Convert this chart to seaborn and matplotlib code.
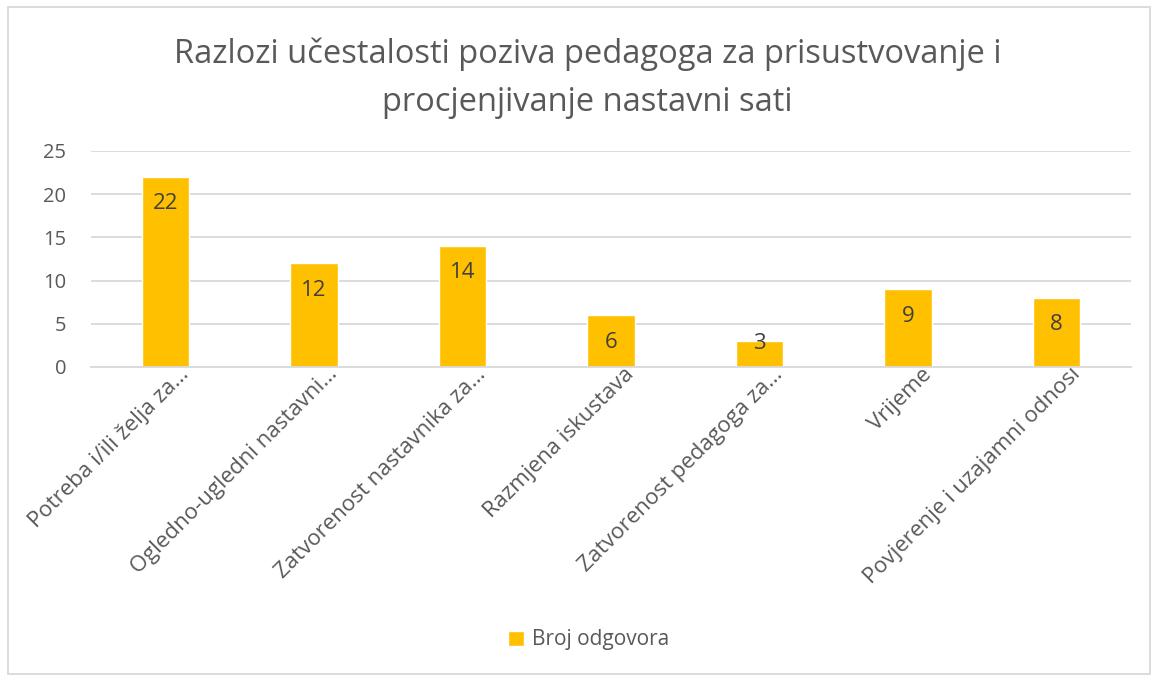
import matplotlib
matplotlib.use("Agg")
import matplotlib.pyplot as plt
import seaborn as sns
import pandas as pd
from matplotlib.patches import Rectangle

# data
categories = ["Potreba i/ili želja za…", "Ogledno-ugledni nastavni…",
              "Zatvorenost nastavnika za…", "Razmjena iskustava",
              "Zatvorenost pedagoga za…", "Vrijeme", "Povjerenje i uzajamni odnosi"]
values = [22, 12, 14, 6, 3, 9, 8]
yticks = [0, 5, 10, 15, 20, 25]
series_name = "Broj odgovora"
title = "Razlozi učestalosti poziva pedagoga za prisustvovanje i\nprocjenjivanje nastavni sati"

df = pd.DataFrame({"kategorija": categories, "vrijednost": values})

sns.set_style("white")
plt.rcParams["font.family"] = ["Open Sans", "DejaVu Sans"]
text_col = "#595959"
bar_col = "#FFC000"

fig = plt.figure(figsize=(11.54, 6.75), dpi=100)
ax = fig.add_axes([91 / 1154, 1 - 367 / 675, (1131 - 91) / 1154, (367 - 151) / 675])

sns.barplot(data=df, x="kategorija", y="vrijednost", color=bar_col, width=0.32,
            saturation=1, ax=ax, label=series_name)

ax.set_ylim(0, 25)
ax.set_yticks(yticks)
ax.yaxis.grid(True, color="#D9D9D9", linewidth=1.3)
ax.set_axisbelow(True)
for s in ["top", "right", "left"]:
    ax.spines[s].set_visible(False)
ax.spines["bottom"].set_color("#D9D9D9")
ax.spines["bottom"].set_linewidth(1.3)
ax.tick_params(axis="both", length=0, colors=text_col, labelsize=14.5)
ax.tick_params(axis="x", labelsize=16)
ax.tick_params(axis="y", pad=18)
ax.set_xlabel("")
ax.set_ylabel("")
plt.setp(ax.get_xticklabels(), rotation=45, ha="right", rotation_mode="anchor")
for lbl in ax.get_xticklabels():
    lbl.set_transform(lbl.get_transform() + matplotlib.transforms.ScaledTranslation(0.13, 0.08, fig.dpi_scale_trans))

# value labels inside the bar end; short bars get the label pushed up
for i, v in enumerate(values):
    y = v - 1.9 if v > 4 else v + 0.9
    ax.text(i, y, str(v), ha="center", va="top", fontsize=16, color="#404040")

fig.suptitle(title, fontsize=23.5, color=text_col, x=0.509, y=0.945, linespacing=1.6)

leg = ax.legend(loc="center", bbox_to_anchor=(0.51, 1 - 640 / 675), bbox_transform=fig.transFigure,
                frameon=False, fontsize=15, handlelength=0.75, handleheight=0.75, handletextpad=0.4)
for t in leg.get_texts():
    t.set_color(text_col)

fig.patches.append(Rectangle((8 / 1154, 0.002), 1142 / 1154, 1 - 8 / 675, transform=fig.transFigure,
                             fill=False, edgecolor="#D9D9D9", linewidth=1.3))

fig.savefig("out.png", dpi=100, facecolor="white")
